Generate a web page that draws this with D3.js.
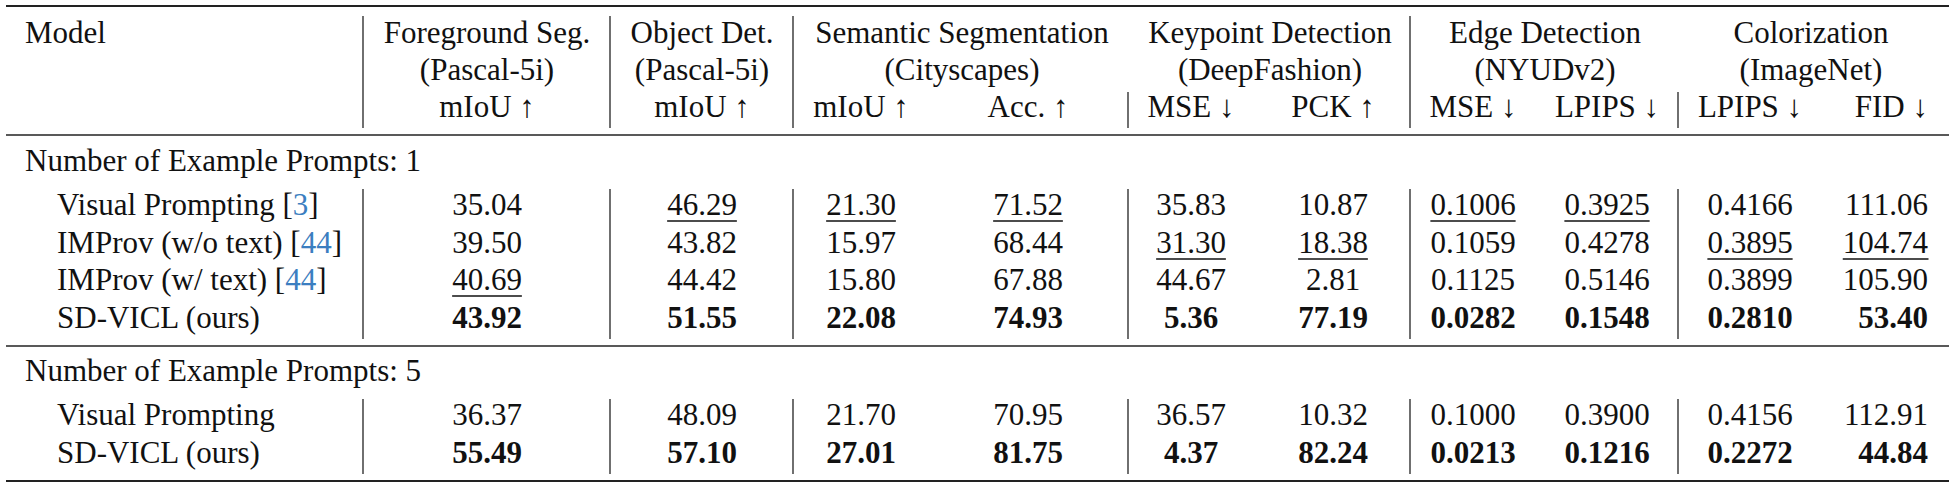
<!DOCTYPE html>
<html>
<head>
<meta charset="utf-8">
<script src="https://cdn.jsdelivr.net/npm/d3@7"></script>
<style>
  body { margin: 0; background: #fff; }
  text { font-family: "Liberation Serif", "DejaVu Serif", serif; font-size: 31px; fill: #111; }
</style>
</head>
<body>
<script>
// ---- data ----
const groups = ["Foreground Seg.", "Object Det.", "Semantic Segmentation", "Keypoint Detection", "Edge Detection", "Colorization"]
const datasets = ["(Pascal-5i)", "(Pascal-5i)", "(Cityscapes)", "(DeepFashion)", "(NYUDv2)", "(ImageNet)"]
const metrics = ["mIoU ↑", "mIoU ↑", "mIoU ↑", "Acc. ↑", "MSE ↓", "PCK ↑", "MSE ↓", "LPIPS ↓", "LPIPS ↓", "FID ↓"]
const sections = ["Number of Example Prompts: 1", "Number of Example Prompts: 5"]

const models1 = [["Visual Prompting ", "3"], ["IMProv (w/o text) ", "44"], ["IMProv (w/ text) ", "44"], ["SD-VICL (ours)", null]]
const values1 = [
  ["35.04", "46.29", "21.30", "71.52", "35.83", "10.87", "0.1006", "0.3925", "0.4166", "111.06"],
  ["39.50", "43.82", "15.97", "68.44", "31.30", "18.38", "0.1059", "0.4278", "0.3895", "104.74"],
  ["40.69", "44.42", "15.80", "67.88", "44.67", "2.81", "0.1125", "0.5146", "0.3899", "105.90"],
  ["43.92", "51.55", "22.08", "74.93", "5.36", "77.19", "0.0282", "0.1548", "0.2810", "53.40"]
]
// b = best (bold), u = second (underline)
const styles1 = [
  ["", "u", "u", "u", "", "", "u", "u", "", ""],
  ["", "", "", "", "u", "u", "", "", "u", "u"],
  ["u", "", "", "", "", "", "", "", "", ""],
  ["b", "b", "b", "b", "b", "b", "b", "b", "b", "b"]
]
const models5 = [["Visual Prompting", null], ["SD-VICL (ours)", null]]
const values5 = [
  ["36.37", "48.09", "21.70", "70.95", "36.57", "10.32", "0.1000", "0.3900", "0.4156", "112.91"],
  ["55.49", "57.10", "27.01", "81.75", "4.37", "82.24", "0.0213", "0.1216", "0.2272", "44.84"]
]
const styles5 = [
  ["", "", "", "", "", "", "", "", "", ""],
  ["b", "b", "b", "b", "b", "b", "b", "b", "b", "b"]
]

// ---- layout ----
const W = 1956, H = 487
const L = 6, R = 1949
const colX = [487, 702, 861, 1028, 1191, 1333, 1473, 1607, 1750, 1928]
const colAnchor = ["middle", "middle", "middle", "middle", "middle", "middle", "middle", "middle", "middle", "end"]
const groupX = [487, 702, 962, 1270, 1545, 1811]
const vlines = [363, 610, 793, 1128, 1410, 1678]
const vFull = [true, true, true, false, true, false]
const cite = "#3b7ec0"

const svg = d3.select("body").append("svg").attr("width", W).attr("height", H)

function rule(y, w) {
  svg.append("line").attr("x1", L).attr("x2", R).attr("y1", y).attr("y2", y)
    .attr("stroke", "#222").attr("stroke-width", w)
}
rule(6, 2.2); rule(135, 1.4); rule(346, 1.4); rule(481, 2.2)

// header
svg.append("text").attr("x", 25).attr("y", 43).text("Model")
svg.selectAll(".g1").data(groups).enter().append("text")
  .attr("x", (d, i) => groupX[i]).attr("y", 43).attr("text-anchor", "middle").text(d => d)
svg.selectAll(".g2").data(datasets).enter().append("text")
  .attr("x", (d, i) => groupX[i]).attr("y", 80).attr("text-anchor", "middle").text(d => d)
svg.selectAll(".m").data(metrics).enter().append("text")
  .attr("x", (d, i) => colX[i]).attr("y", 117).attr("text-anchor", (d, i) => colAnchor[i]).text(d => d)

vlines.forEach((x, i) => {
  const segs = [[vFull[i] ? 16 : 92, 128], [189, 339], [399, 474]]
  segs.forEach(s => svg.append("line").attr("x1", x).attr("x2", x).attr("y1", s[0]).attr("y2", s[1])
    .attr("stroke", "#222").attr("stroke-width", 1.3))
})

svg.selectAll(".sec").data(sections).enter().append("text")
  .attr("x", 25).attr("y", (d, i) => [171, 381][i]).text(d => d)

function block(models, values, styles, ys) {
  const y = d3.scaleOrdinal().domain(d3.range(models.length)).range(ys)
  models.forEach((m, r) => {
    const t = svg.append("text").attr("x", 57).attr("y", y(r))
    t.append("tspan").text(m[0])
    if (m[1]) {
      t.append("tspan").text("[")
      t.append("tspan").style("fill", cite).text(m[1])
      t.append("tspan").text("]")
    }
    values[r].forEach((v, c) => {
      const s = styles[r][c]
      const tx = svg.append("text").attr("x", colX[c]).attr("y", y(r))
        .attr("text-anchor", colAnchor[c]).attr("font-weight", s === "b" ? "bold" : "normal").text(v)
      if (s === "u") {
        const bb = tx.node().getBBox()
        svg.append("line").attr("x1", bb.x).attr("x2", bb.x + bb.width)
          .attr("y1", y(r) + 6).attr("y2", y(r) + 6).attr("stroke", "#111").attr("stroke-width", 1.3)
      }
    })
  })
}
block(models1, values1, styles1, [215, 253, 290, 328])
block(models5, values5, styles5, [425, 463])
</script>
</body>
</html>
